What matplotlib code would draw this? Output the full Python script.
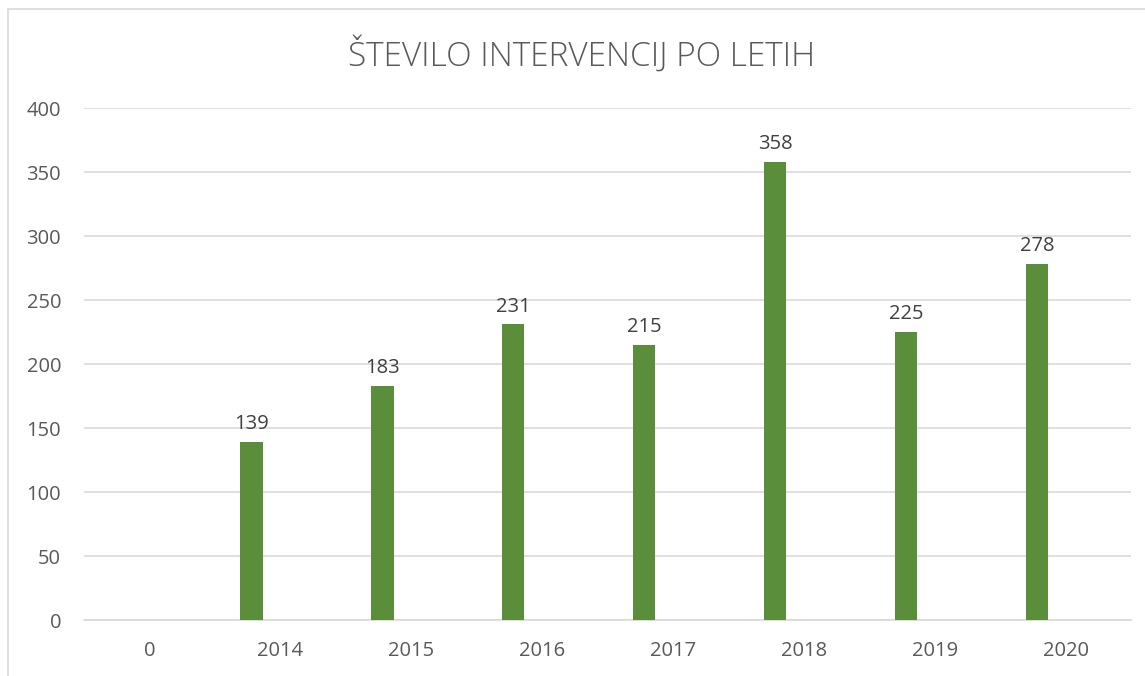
import numpy as np
import matplotlib
matplotlib.use("Agg")
import matplotlib.pyplot as plt
from matplotlib.patches import Rectangle

categories = ["0", "2014", "2015", "2016", "2017", "2018", "2019", "2020"]
values = [None, 139, 183, 231, 215, 358, 225, 278]
title = "ŠTEVILO INTERVENCIJ PO LETIH"

text_color = "#595959"
bar_color = "#5A8E3A"
grid_color = "#D9D9D9"

plt.rcParams["font.family"] = ["Open Sans", "DejaVu Sans"]

fig = plt.figure(figsize=(11.45, 6.76), dpi=100)
ax = fig.add_axes([84 / 1145, 56 / 676, (1131 - 84) / 1145, 512 / 676])

# chart frame like the spreadsheet border
fig.patches.append(Rectangle((8 / 1145, -0.1), 1.2, (676 - 9) / 676 + 0.1,
                             transform=fig.transFigure, fill=False,
                             edgecolor="#D9D9D9", linewidth=1.2))

x = np.arange(len(categories))
heights = [v if v is not None else 0 for v in values]
offset = -0.22
width = 0.17
bars = ax.bar(x + offset, heights, width=width, color=bar_color, zorder=3)
for xi, v in zip(x, values):
    if v is None:
        continue
    ax.text(xi + offset, v + 6, str(v), ha="center", va="bottom",
            fontsize=14.5, color="#404040")

ax.set_xlim(-0.5, len(categories) - 0.5)
ax.set_ylim(0, 400)
ax.set_yticks(np.arange(0, 401, 50))
ax.set_xticks(x)
ax.set_xticklabels(categories)
ax.tick_params(axis="both", length=0, labelsize=14.5, colors=text_color)
ax.tick_params(axis="x", pad=15)
ax.tick_params(axis="y", pad=16.5)
ax.grid(axis="y", color=grid_color, linewidth=1.2, zorder=0)
for side in ["top", "right", "left"]:
    ax.spines[side].set_visible(False)
ax.spines["bottom"].set_color(grid_color)
ax.spines["bottom"].set_linewidth(1.2)

fig.text(582 / 1145, 1 - 55 / 676, title, ha="center", va="center",
         fontsize=24, color=text_color, fontweight="light")

fig.savefig("out.png", dpi=100)
